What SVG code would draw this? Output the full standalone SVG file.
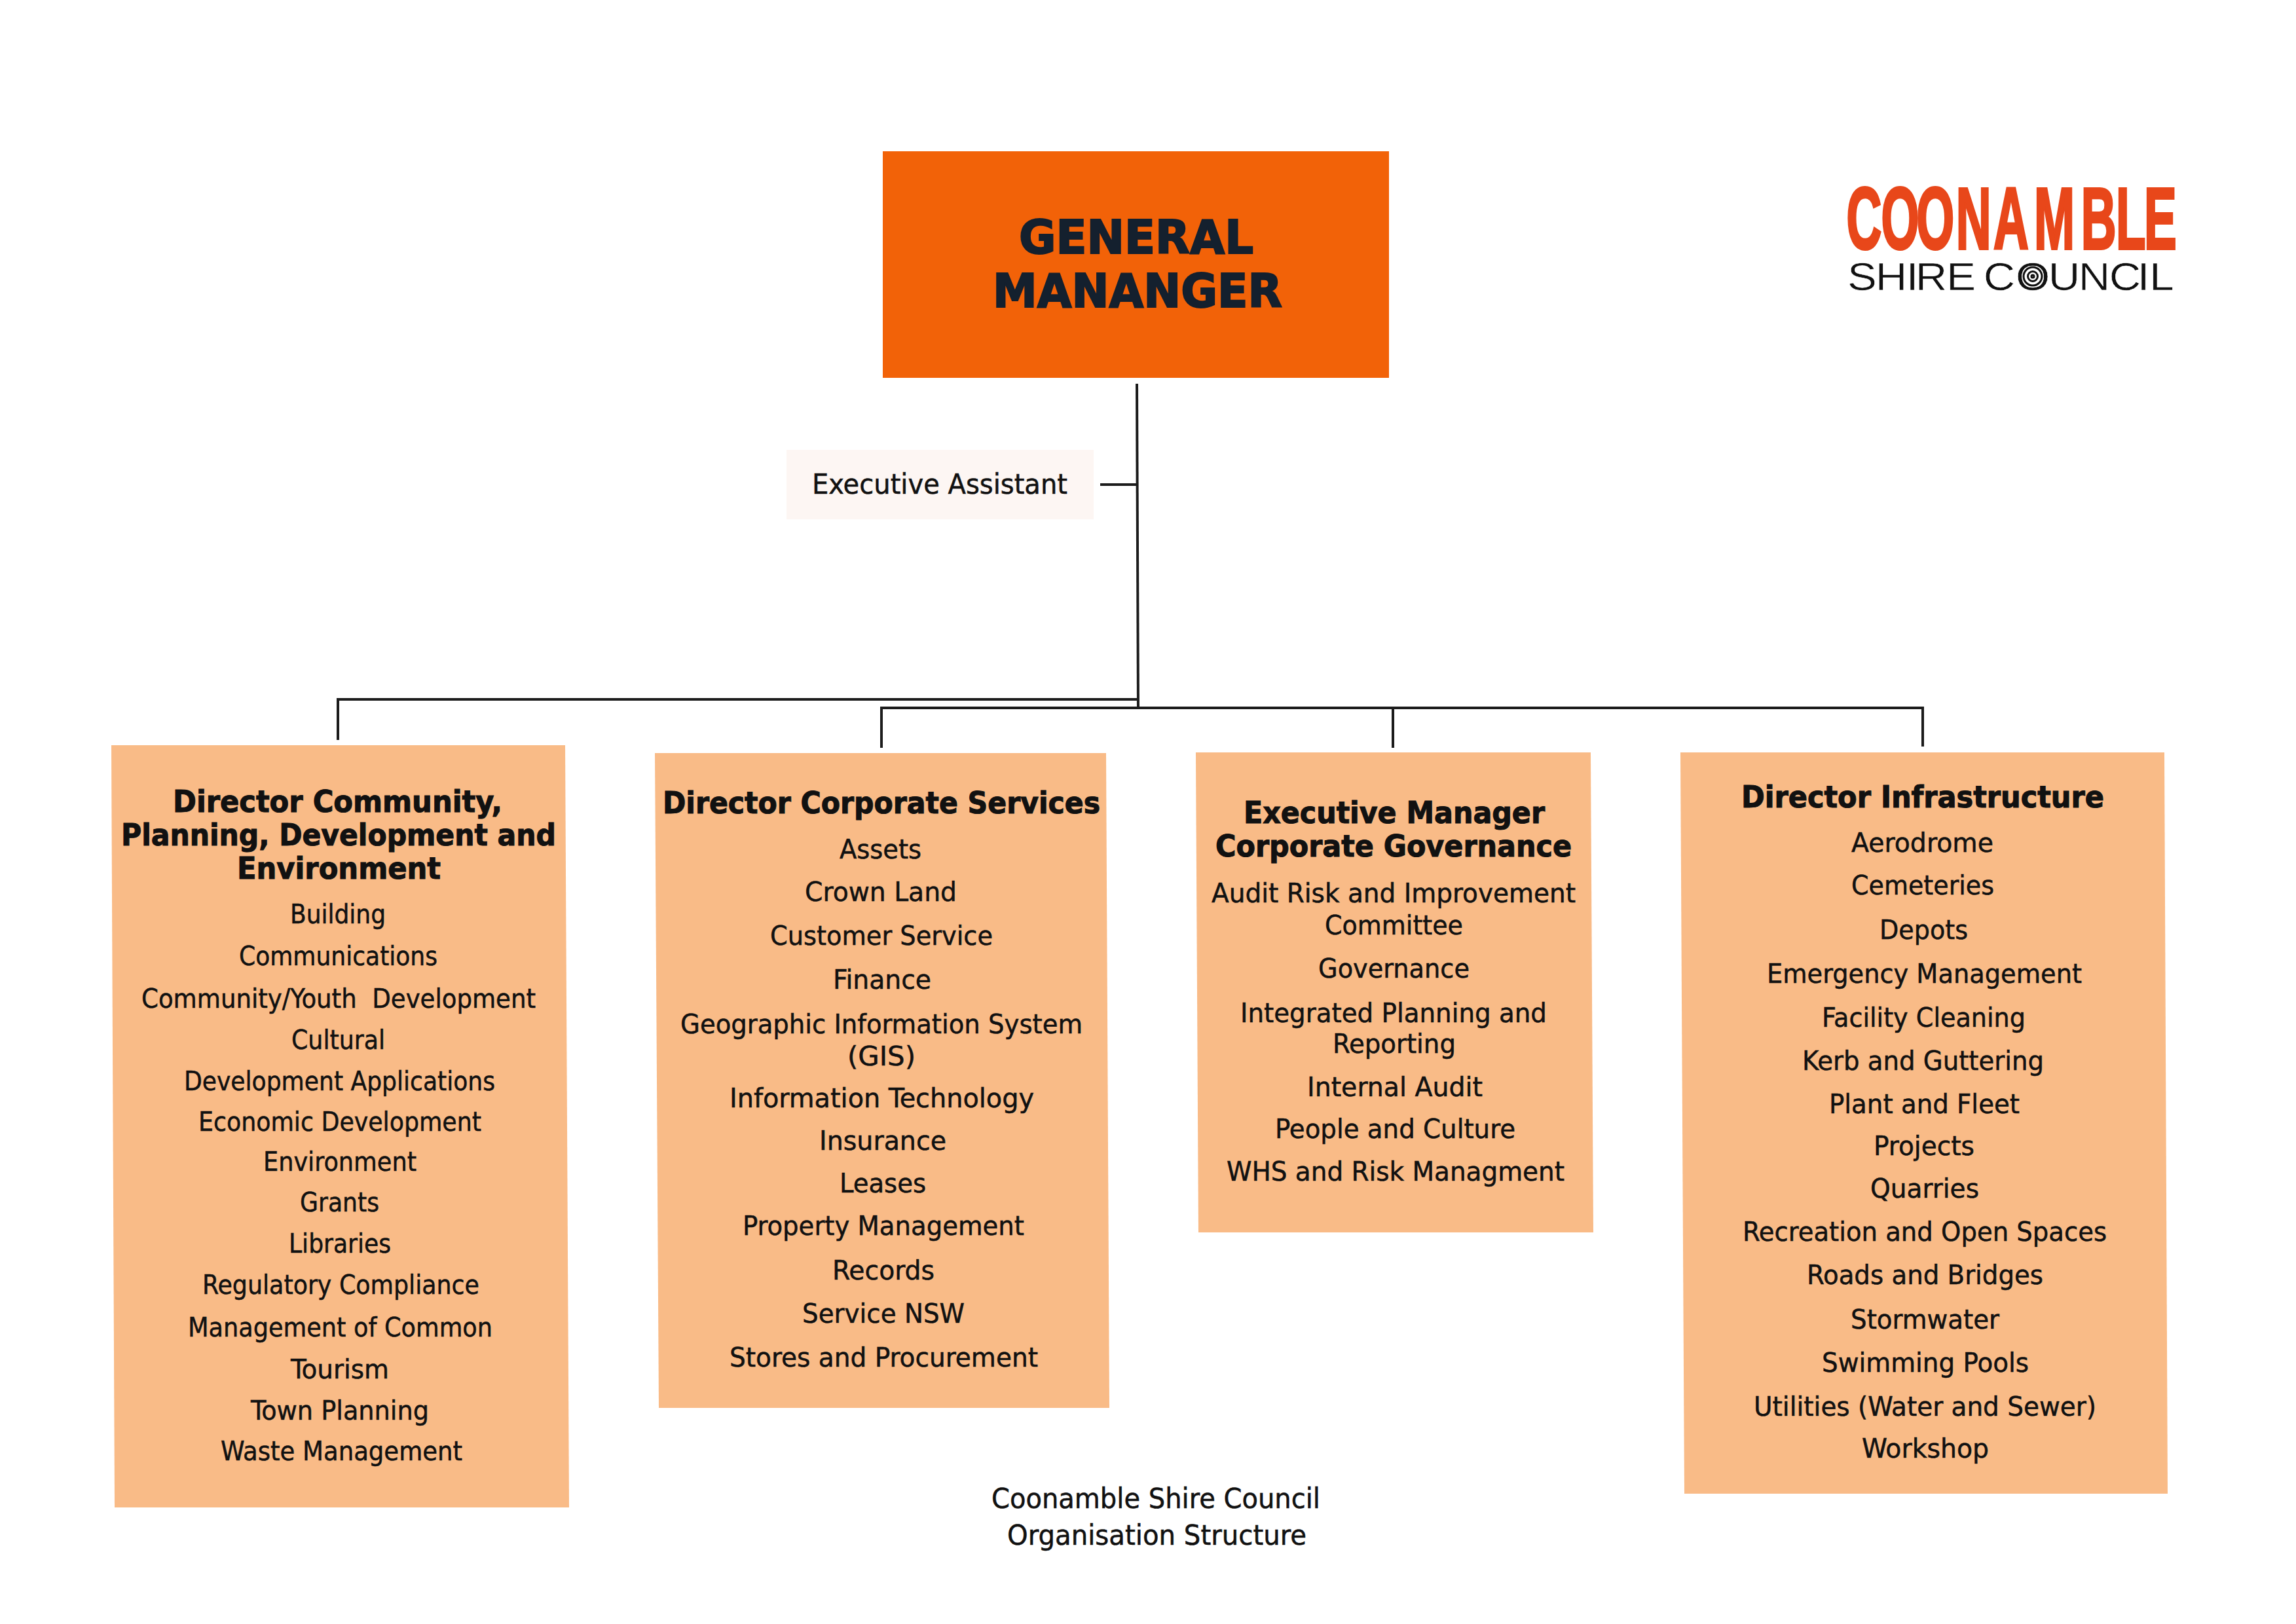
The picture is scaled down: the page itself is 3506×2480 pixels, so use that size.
<svg xmlns="http://www.w3.org/2000/svg" width="3506" height="2480" viewBox="0 0 3506 2480">
<style>
text{font-family:"DejaVu Sans Condensed","DejaVu Sans",sans-serif;fill:#111;stroke:#111;stroke-width:.5;}
.i{font-size:41px;}
.h{font-size:46px;font-weight:bold;stroke-width:1;}
.g{font-size:72px;font-weight:bold;fill:#14202e;stroke:#14202e;stroke-width:2;}
.box{fill:#f9bb87;}
.c{fill:none;stroke:#1c1c1c;stroke-width:4;}
.r{fill:none;stroke:#111;stroke-width:3;}
.logo1{font-family:"Liberation Sans",sans-serif;font-size:133px;font-weight:bold;fill:#e8471a;stroke:#e8471a;stroke-width:4;}
.logo2{font-family:"Liberation Sans",sans-serif;font-size:60px;fill:#111;stroke:#fff;stroke-width:.6;}
</style>
<rect width="3506" height="2480" fill="#fff"/>
<g id="connectors">
<path class="c" d="M1736 586L1738 1082"/>
<path class="c" d="M1680 740H1736"/>
<path class="c" d="M516 1130V1068H1738"/>
<path class="c" d="M1346 1142V1081H2936V1140"/>
<path class="c" d="M2127 1081V1142"/>
</g>
<g id="general-manager">
<rect x="1348" y="231" width="773" height="346" fill="#f26208"/>
<text class="g" x="1556" y="387" textLength="358" lengthAdjust="spacingAndGlyphs">GENERAL</text>
<text class="g" x="1516" y="469" textLength="442" lengthAdjust="spacingAndGlyphs">MANANGER</text>
</g>
<g id="executive-assistant">
<rect x="1201" y="687" width="469" height="106" fill="#fdf6f3"/>
<text x="1240" y="754" font-size="43" textLength="390" lengthAdjust="spacingAndGlyphs">Executive Assistant</text>
</g>
<g id="logo">
<text class="logo1" transform="translate(2825 380) scale(.56 1)" x="-10 85 181 289 391 502 630 725 802" y="0">COONAMBLE</text>
<text class="logo2" transform="translate(2820 443) scale(1.12 1)" y="0" x="1 39 81 93.5 136 180 186.3 230.3 274.7 315.8 357.8 396.2 412.8">SHIRE COUNCIL</text>
<circle class="r" cx="3104" cy="422" r="14"/>
<circle class="r" cx="3104" cy="422" r="7.5"/>
<circle class="r" cx="3104" cy="422" r="2" stroke-width="2"/>
</g>
<g id="director-community">
<polygon class="box" points="170,1138 863,1138 869,2302 175,2302"/>
<text class="h" x="264" y="1240" textLength="503" lengthAdjust="spacingAndGlyphs">Director Community,</text>
<text class="h" x="185" y="1291" textLength="664" lengthAdjust="spacingAndGlyphs">Planning, Development and</text>
<text class="h" x="362" y="1342" textLength="311" lengthAdjust="spacingAndGlyphs">Environment</text>
<text class="i" x="443" y="1410" textLength="146" lengthAdjust="spacingAndGlyphs">Building</text>
<text class="i" x="365" y="1474" textLength="303" lengthAdjust="spacingAndGlyphs">Communications</text>
<text class="i" x="216" y="1539" textLength="602" lengthAdjust="spacingAndGlyphs" xml:space="preserve">Community/Youth  Development</text>
<text class="i" x="445" y="1602" textLength="143" lengthAdjust="spacingAndGlyphs">Cultural</text>
<text class="i" x="281" y="1665" textLength="475" lengthAdjust="spacingAndGlyphs">Development Applications</text>
<text class="i" x="303" y="1727" textLength="432" lengthAdjust="spacingAndGlyphs">Economic Development</text>
<text class="i" x="402" y="1788" textLength="234" lengthAdjust="spacingAndGlyphs">Environment</text>
<text class="i" x="458" y="1850" textLength="121" lengthAdjust="spacingAndGlyphs">Grants</text>
<text class="i" x="441" y="1913" textLength="156" lengthAdjust="spacingAndGlyphs">Libraries</text>
<text class="i" x="309" y="1976" textLength="423" lengthAdjust="spacingAndGlyphs">Regulatory Compliance</text>
<text class="i" x="287" y="2041" textLength="465" lengthAdjust="spacingAndGlyphs">Management of Common</text>
<text class="i" x="444" y="2105" textLength="150" lengthAdjust="spacingAndGlyphs">Tourism</text>
<text class="i" x="383" y="2168" textLength="272" lengthAdjust="spacingAndGlyphs">Town Planning</text>
<text class="i" x="337" y="2230" textLength="369" lengthAdjust="spacingAndGlyphs">Waste Management</text>
</g>
<g id="director-corporate">
<polygon class="box" points="1000,1150 1689,1150 1694,2150 1006,2150"/>
<text class="h" x="1012" y="1242" textLength="668" lengthAdjust="spacingAndGlyphs">Director Corporate Services</text>
<text class="i" x="1282" y="1311" textLength="125" lengthAdjust="spacingAndGlyphs">Assets</text>
<text class="i" x="1229" y="1376" textLength="232" lengthAdjust="spacingAndGlyphs">Crown Land</text>
<text class="i" x="1176" y="1443" textLength="340" lengthAdjust="spacingAndGlyphs">Customer Service</text>
<text class="i" x="1272" y="1510" textLength="150" lengthAdjust="spacingAndGlyphs">Finance</text>
<text class="i" x="1039" y="1578" textLength="614" lengthAdjust="spacingAndGlyphs">Geographic Information System</text>
<text class="i" x="1294" y="1627" textLength="104" lengthAdjust="spacingAndGlyphs">(GIS)</text>
<text class="i" x="1114" y="1691" textLength="465" lengthAdjust="spacingAndGlyphs">Information Technology</text>
<text class="i" x="1251" y="1756" textLength="194" lengthAdjust="spacingAndGlyphs">Insurance</text>
<text class="i" x="1282" y="1821" textLength="132" lengthAdjust="spacingAndGlyphs">Leases</text>
<text class="i" x="1134" y="1886" textLength="430" lengthAdjust="spacingAndGlyphs">Property Management</text>
<text class="i" x="1271" y="1954" textLength="156" lengthAdjust="spacingAndGlyphs">Records</text>
<text class="i" x="1225" y="2020" textLength="248" lengthAdjust="spacingAndGlyphs">Service NSW</text>
<text class="i" x="1114" y="2087" textLength="471" lengthAdjust="spacingAndGlyphs">Stores and Procurement</text>
</g>
<g id="executive-manager">
<polygon class="box" points="1826,1149 2429,1149 2433,1882 1830,1882"/>
<text class="h" x="1899" y="1257" textLength="460" lengthAdjust="spacingAndGlyphs">Executive Manager</text>
<text class="h" x="1856" y="1308" textLength="544" lengthAdjust="spacingAndGlyphs">Corporate Governance</text>
<text class="i" x="1850" y="1378" textLength="556" lengthAdjust="spacingAndGlyphs">Audit Risk and Improvement</text>
<text class="i" x="2023" y="1427" textLength="211" lengthAdjust="spacingAndGlyphs">Committee</text>
<text class="i" x="2013" y="1493" textLength="231" lengthAdjust="spacingAndGlyphs">Governance</text>
<text class="i" x="1894" y="1561" textLength="468" lengthAdjust="spacingAndGlyphs">Integrated Planning and</text>
<text class="i" x="2035" y="1608" textLength="188" lengthAdjust="spacingAndGlyphs">Reporting</text>
<text class="i" x="1996" y="1674" textLength="268" lengthAdjust="spacingAndGlyphs">Internal Audit</text>
<text class="i" x="1947" y="1738" textLength="367" lengthAdjust="spacingAndGlyphs">People and Culture</text>
<text class="i" x="1873" y="1803" textLength="516" lengthAdjust="spacingAndGlyphs">WHS and Risk Managment</text>
</g>
<g id="director-infrastructure">
<polygon class="box" points="2566,1149 3305,1149 3310,2281 2572,2281"/>
<text class="h" x="2659" y="1233" textLength="554" lengthAdjust="spacingAndGlyphs">Director Infrastructure</text>
<text class="i" x="2827" y="1301" textLength="217" lengthAdjust="spacingAndGlyphs">Aerodrome</text>
<text class="i" x="2827" y="1366" textLength="218" lengthAdjust="spacingAndGlyphs">Cemeteries</text>
<text class="i" x="2870" y="1434" textLength="135" lengthAdjust="spacingAndGlyphs">Depots</text>
<text class="i" x="2698" y="1501" textLength="481" lengthAdjust="spacingAndGlyphs">Emergency Management</text>
<text class="i" x="2782" y="1568" textLength="311" lengthAdjust="spacingAndGlyphs">Facility Cleaning</text>
<text class="i" x="2752" y="1634" textLength="369" lengthAdjust="spacingAndGlyphs">Kerb and Guttering</text>
<text class="i" x="2793" y="1700" textLength="291" lengthAdjust="spacingAndGlyphs">Plant and Fleet</text>
<text class="i" x="2861" y="1764" textLength="154" lengthAdjust="spacingAndGlyphs">Projects</text>
<text class="i" x="2856" y="1829" textLength="166" lengthAdjust="spacingAndGlyphs">Quarries</text>
<text class="i" x="2661" y="1895" textLength="556" lengthAdjust="spacingAndGlyphs">Recreation and Open Spaces</text>
<text class="i" x="2759" y="1961" textLength="361" lengthAdjust="spacingAndGlyphs">Roads and Bridges</text>
<text class="i" x="2826" y="2029" textLength="227" lengthAdjust="spacingAndGlyphs">Stormwater</text>
<text class="i" x="2782" y="2095" textLength="316" lengthAdjust="spacingAndGlyphs">Swimming Pools</text>
<text class="i" x="2678" y="2162" textLength="523" lengthAdjust="spacingAndGlyphs">Utilities (Water and Sewer)</text>
<text class="i" x="2843" y="2226" textLength="194" lengthAdjust="spacingAndGlyphs">Workshop</text>
</g>
<g id="caption">
<text x="1514" y="2303" font-size="43" textLength="502" lengthAdjust="spacingAndGlyphs">Coonamble Shire Council</text>
<text x="1538" y="2359" font-size="43" textLength="457" lengthAdjust="spacingAndGlyphs">Organisation Structure</text>
</g>
</svg>
